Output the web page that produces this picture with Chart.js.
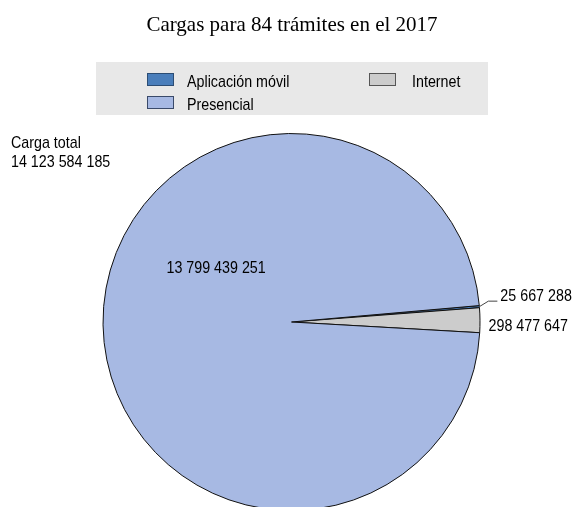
<!DOCTYPE html>
<html>
<head>
<meta charset="utf-8">
<script src="https://cdn.jsdelivr.net/npm/chart.js@4"></script>
<style>
  html, body { margin: 0; padding: 0; background: #fff; overflow: hidden; }
  #wrap { position: relative; width: 576px; height: 520px; }
</style>
</head>
<body>
<div id="wrap"><canvas id="cargas-chart"></canvas></div>
<script>
// Cargas por canal de atención
const titulo = 'Cargas para 84 trámites en el 2017';
const categories = ['Aplicación móvil', 'Internet', 'Presencial'];
const cargas = [25667288, 298477647, 13799439251];
const cargaTotal = 14123584185;
const colores = ['#4A7EBB', '#CCCCCC', '#A7B9E3'];
const bordesLeyenda = ['#2C4D74', '#555555', '#3A4A6A'];

const SANS = '"Liberation Sans", Arial, sans-serif';
const SERIF = '"Liberation Serif", "Times New Roman", serif';
const ESTRECHO = 0.84; // texto sans algo condensado

// separador de miles con espacio
function fmt(n) {
    return String(n).replace(/\B(?=(\d{3})+(?!\d))/g, ' ');
}

// escribe texto condensado horizontalmente, con línea base alfabética
function texto(ctx, str, x, y, align) {
    ctx.save();
    ctx.translate(x, y);
    ctx.scale(ESTRECHO, 1);
    ctx.textAlign = align || 'left';
    ctx.textBaseline = 'alphabetic';
    ctx.fillText(str, 0, 0);
    ctx.restore();
}

// leyenda, título, total y etiquetas de valor
const decoraciones = {
    id: 'decoraciones',
    afterDatasetsDraw(chart) {
        const ctx = chart.ctx;
        const meta = chart.getDatasetMeta(0);
        ctx.save();

        // título
        ctx.fillStyle = '#000';
        ctx.font = '21px ' + SERIF;
        ctx.textAlign = 'center';
        ctx.textBaseline = 'alphabetic';
        ctx.fillText(titulo, 292, 31);

        // caja de la leyenda
        ctx.fillStyle = '#E8E8E8';
        ctx.fillRect(96, 62, 392, 53);
        const items = [
            { i: 0, x: 147, y: 73, tx: 187 },
            { i: 1, x: 369, y: 73, tx: 412 },
            { i: 2, x: 147, y: 96, tx: 187 }
        ];
        ctx.font = '17px ' + SANS;
        items.forEach(function (it) {
            ctx.fillStyle = colores[it.i];
            ctx.fillRect(it.x, it.y, 27, 13);
            ctx.strokeStyle = bordesLeyenda[it.i];
            ctx.lineWidth = 1;
            ctx.strokeRect(it.x + 0.5, it.y + 0.5, 26, 12);
            ctx.fillStyle = '#000';
            texto(ctx, categories[it.i], it.tx, it.y + 14);
        });

        // total
        texto(ctx, 'Carga total', 11, 148);
        texto(ctx, fmt(cargaTotal), 11, 166.5);

        // etiquetas de los sectores
        const arcMovil = meta.data[0];
        const arcInternet = meta.data[1];
        const arcPresencial = meta.data[2];
        const r = arcPresencial.outerRadius;
        const cx = arcPresencial.x, cy = arcPresencial.y;

        texto(ctx, fmt(cargas[2]), cx - 0.40 * r, cy - 0.26 * r, 'center');

        // línea guía hacia el sector más pequeño
        const aM = (arcMovil.startAngle + arcMovil.endAngle) / 2;
        const px = cx + Math.cos(aM) * r, py = cy + Math.sin(aM) * r;
        ctx.strokeStyle = '#444';
        ctx.lineWidth = 1;
        ctx.beginPath();
        ctx.moveTo(px, py);
        ctx.lineTo(px + 9, py - 5.5);
        ctx.lineTo(px + 18, py - 5.5);
        ctx.stroke();
        texto(ctx, fmt(cargas[0]), px + 21, py - 6);

        const aI = (arcInternet.startAngle + arcInternet.endAngle) / 2;
        texto(ctx, fmt(cargas[1]), cx + Math.cos(aI) * r + 8.5, cy + Math.sin(aI) * r + 10.5);

        ctx.restore();
    }
};

function createCargasChart(targetID) {
    const ctx = document.getElementById(targetID).getContext('2d');
    return new Chart(ctx, {
        type: 'pie',
        data: {
            labels: categories,
            datasets: [{
                data: cargas,
                backgroundColor: colores,
                borderColor: '#111',
                borderWidth: 1
            }]
        },
        options: {
            responsive: true,
            maintainAspectRatio: false,
            animation: false,
            rotation: 85,
            layout: {
                padding: { left: 102, right: 95, top: 133, bottom: 9 }
            },
            plugins: {
                legend: { display: false },
                title: { display: false },
                tooltip: { enabled: false }
            }
        },
        plugins: [decoraciones]
    });
}

createCargasChart('cargas-chart');
</script>
</body>
</html>
